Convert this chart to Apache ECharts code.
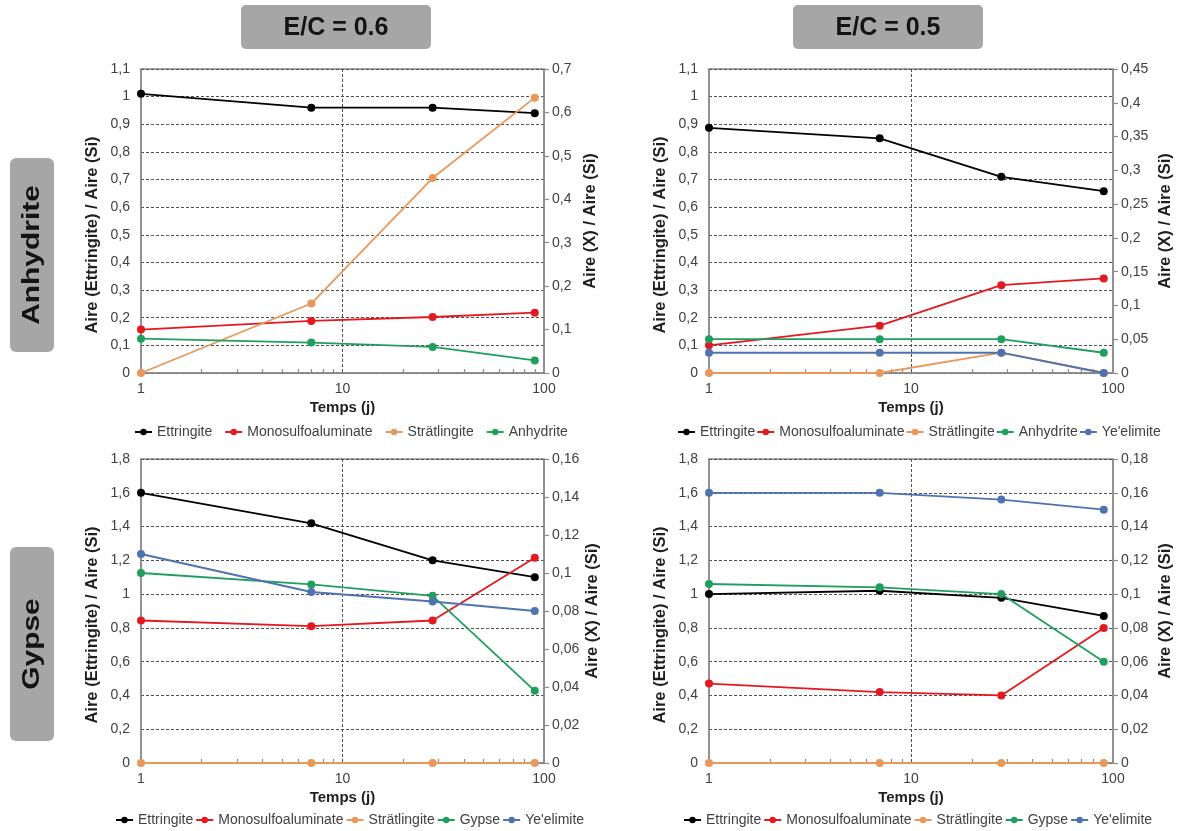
<!DOCTYPE html>
<html>
<head>
<meta charset="utf-8">
<script src="https://cdn.jsdelivr.net/npm/echarts@6/dist/echarts.min.js"></script>
<style>
html,body{margin:0;padding:0;background:#fff;}
#chart{width:1178px;height:831px;}
</style>
</head>
<body>
<div id="chart"></div>
<script>
// ---- data ----
const days = [1, 7, 28, 90];
const xMinorTicks = [2, 3, 4, 5, 6, 7, 8, 9, 20, 30, 40, 50, 60, 70, 80, 90];
const xMajorGridValues = [10];

// E/C = 0.6, Anhydrite
const tlEttringite = [1.01, 0.96, 0.96, 0.94];
const tlMonosulfoaluminate = [0.10, 0.12, 0.129, 0.139];
const tlStratlingite = [0, 0.16, 0.449, 0.634];
const tlAnhydrite = [0.079, 0.07, 0.06, 0.029];

// E/C = 0.5, Anhydrite
const trEttringite = [0.887, 0.849, 0.71, 0.658];
const trMonosulfoaluminate = [0.041, 0.07, 0.13, 0.14];
const trStratlingite = [0, 0, 0.03, 0];
const trAnhydrite = [0.05, 0.05, 0.05, 0.03];
const trYeelimite = [0.03, 0.03, 0.03, 0];

// E/C = 0.6, Gypse
const blEttringite = [1.6, 1.419, 1.2, 1.1];
const blMonosulfoaluminate = [0.075, 0.072, 0.075, 0.108];
const blStratlingite = [0, 0, 0, 0];
const blGypse = [0.1, 0.094, 0.088, 0.038];
const blYeelimite = [0.11, 0.09, 0.085, 0.08];

// E/C = 0.5, Gypse
const brEttringite = [1.0, 1.02, 0.978, 0.871];
const brMonosulfoaluminate = [0.047, 0.042, 0.04, 0.08];
const brStratlingite = [0, 0, 0, 0];
const brGypse = [0.106, 0.104, 0.1, 0.06];
const brYeelimite = [0.16, 0.16, 0.156, 0.15];

const colTitles = ['E/C = 0.6', 'E/C = 0.5'];
const rowTitles = ['Anhydrite', 'Gypse'];
const leftAxisName = 'Aire (Ettringite) / Aire (Si)';
const rightAxisName = 'Aire (X) / Aire (Si)';
const xAxisName = 'Temps (j)';

// ---- styles ----
const FONT = '"Liberation Sans", Arial, Helvetica, sans-serif';
const colors = {
  'Ettringite': '#000000',
  'Monosulfoaluminate': '#e3191f',
  'Strätlingite': '#e8985a',
  'Anhydrite': '#1f9f5e',
  'Gypse': '#1f9f5e',
  "Ye'elimite": '#4f72b0'
};
const frameColor = '#8a8a8a';
const gridLineColor = '#505050';
const labelColor = '#404040';
const nameColor = '#1e1e1e';

const panels = [
  { grid: {left: 141, top: 69, width: 403, height: 304},
    leftMax: 1.1, leftInterval: 0.1, rightMax: 0.7, rightInterval: 0.1, rightGap: 38,
    legend: {left: 134, top: 425, gap: 12},
    series: [['Ettringite', tlEttringite], ['Monosulfoaluminate', tlMonosulfoaluminate], ['Strätlingite', tlStratlingite], ['Anhydrite', tlAnhydrite]] },
  { grid: {left: 709, top: 69, width: 404, height: 304},
    leftMax: 1.1, leftInterval: 0.1, rightMax: 0.45, rightInterval: 0.05, rightGap: 44,
    legend: {left: 677, top: 425, gap: 1},
    series: [['Ettringite', trEttringite], ['Monosulfoaluminate', trMonosulfoaluminate], ['Strätlingite', trStratlingite], ['Anhydrite', trAnhydrite], ["Ye'elimite", trYeelimite]] },
  { grid: {left: 141, top: 459, width: 403, height: 304},
    leftMax: 1.8, leftInterval: 0.2, rightMax: 0.16, rightInterval: 0.02, rightGap: 40,
    legend: {left: 115, top: 813, gap: 2},
    series: [['Ettringite', blEttringite], ['Monosulfoaluminate', blMonosulfoaluminate], ['Strätlingite', blStratlingite], ['Gypse', blGypse], ["Ye'elimite", blYeelimite]] },
  { grid: {left: 709, top: 459, width: 404, height: 304},
    leftMax: 1.8, leftInterval: 0.2, rightMax: 0.18, rightInterval: 0.02, rightGap: 44,
    legend: {left: 683, top: 813, gap: 2},
    series: [['Ettringite', brEttringite], ['Monosulfoaluminate', brMonosulfoaluminate], ['Strätlingite', brStratlingite], ['Gypse', brGypse], ["Ye'elimite", brYeelimite]] }
];

const fmt = v => String(Math.round(v * 1000) / 1000).replace('.', ',');

const option = {
  backgroundColor: '#ffffff',
  animation: false,
  textStyle: {fontFamily: FONT},
  grid: [], xAxis: [], yAxis: [], series: [], legend: [],
  graphic: []
};

panels.forEach((p, i) => {
  option.grid.push(Object.assign({show: true, borderColor: frameColor, borderWidth: 1.5, backgroundColor: 'transparent'}, p.grid));
  // main x axis
  option.xAxis.push({
    type: 'log', logBase: 10, min: 1, max: 100, gridIndex: i,
    name: xAxisName, nameLocation: 'middle', nameGap: 27,
    nameTextStyle: {fontFamily: FONT, fontWeight: 'bold', fontSize: 15, color: nameColor},
    axisLine: {show: true, lineStyle: {color: frameColor, width: 1.5}},
    axisTick: {show: false, customValues: xMajorGridValues},
    axisLabel: {color: labelColor, fontSize: 14, margin: 9, fontFamily: FONT},
    splitLine: {show: true, lineStyle: {color: gridLineColor, type: [3, 2], width: 1}}
  });
  // minor tick overlay axis
  option.xAxis.push({
    type: 'log', logBase: 10, min: 1, max: 100, gridIndex: i, position: 'bottom',
    axisLine: {show: false},
    axisLabel: {show: false},
    splitLine: {show: false},
    axisTick: {show: true, inside: true, length: 4, customValues: xMinorTicks, lineStyle: {color: frameColor, width: 1.2}}
  });
  option.yAxis.push({
    type: 'value', gridIndex: i, position: 'left', min: 0, max: p.leftMax, interval: p.leftInterval,
    name: leftAxisName, nameLocation: 'middle', nameRotate: 90, nameGap: 40,
    nameTextStyle: {fontFamily: FONT, fontWeight: 'bold', fontSize: 16.5, color: nameColor, padding: [0, 28, 0, 0]},
    axisLine: {show: true, lineStyle: {color: frameColor, width: 1.5}},
    axisTick: {show: false},
    axisLabel: {formatter: fmt, color: labelColor, fontSize: 14, margin: 11, fontFamily: FONT},
    splitLine: {show: true, lineStyle: {color: gridLineColor, type: [3, 2], width: 1}}
  });
  option.yAxis.push({
    type: 'value', gridIndex: i, position: 'right', min: 0, max: p.rightMax, interval: p.rightInterval,
    name: rightAxisName, nameLocation: 'middle', nameRotate: 90, nameGap: p.rightGap,
    nameTextStyle: {fontFamily: FONT, fontWeight: 'bold', fontSize: 16.5, color: nameColor},
    axisLine: {show: true, lineStyle: {color: frameColor, width: 1.5}},
    axisTick: {show: true, inside: false, length: 5, lineStyle: {color: frameColor, width: 1.2}},
    axisLabel: {formatter: fmt, color: labelColor, fontSize: 14, margin: 8, fontFamily: FONT},
    splitLine: {show: false}
  });
  p.series.forEach(([name, vals], k) => {
    option.series.push({
      type: 'line', name: name,
      xAxisIndex: 2 * i, yAxisIndex: name === 'Ettringite' ? 2 * i : 2 * i + 1,
      data: days.map((d, j) => [d, vals[j]]),
      symbol: 'circle', symbolSize: 8, clip: false,
      color: colors[name],
      lineStyle: {color: colors[name], width: 1.8},
      itemStyle: {color: colors[name]},
      z: 3 + k
    });
  });
  option.legend.push({
    left: p.legend.left, top: p.legend.top, orient: 'horizontal', padding: 0,
    itemWidth: 17, itemHeight: 8, itemGap: p.legend.gap,
    textStyle: {color: labelColor, fontSize: 14, fontFamily: FONT},
    data: p.series.map(s => s[0])
  });
});

// column header boxes
const colBoxes = [{x: 241, w: 190}, {x: 793, w: 190}];
colBoxes.forEach((b, i) => {
  option.graphic.push({type: 'rect', shape: {x: b.x, y: 5, width: b.w, height: 44, r: 5}, style: {fill: '#a6a6a6'}, z: 1});
  option.graphic.push({type: 'text', x: b.x + b.w / 2, y: 28, z: 2,
    style: {text: colTitles[i], font: 'bold 25px ' + FONT, fill: '#141414', align: 'center', verticalAlign: 'middle'}});
});
// row header boxes
const rowBoxes = [{y: 158, h: 194}, {y: 547, h: 194}];
rowBoxes.forEach((b, i) => {
  option.graphic.push({type: 'rect', shape: {x: 10, y: b.y, width: 44, height: b.h, r: 6}, style: {fill: '#a6a6a6'}, z: 1});
  option.graphic.push({type: 'text', x: 33, y: b.y + b.h / 2, rotation: Math.PI / 2, scaleX: 1.3, z: 2,
    style: {text: rowTitles[i], font: 'bold 23px ' + FONT, fill: '#141414', align: 'center', verticalAlign: 'middle'}});
});

const chart = echarts.init(document.getElementById('chart'), null, {renderer: 'canvas'});
chart.setOption(option);
</script>
</body>
</html>
